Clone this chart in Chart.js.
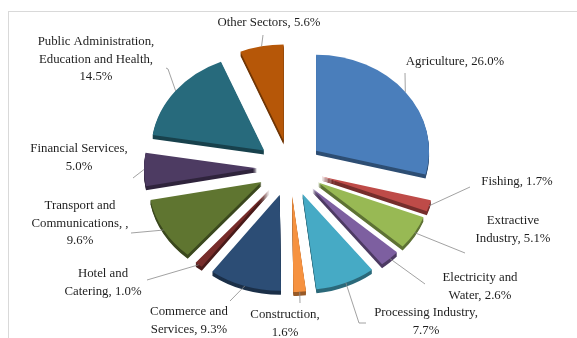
<!DOCTYPE html>
<html>
<head>
<meta charset="utf-8">
<script src="https://cdn.jsdelivr.net/npm/chart.js@4/dist/chart.umd.min.js"></script>
<style>
  html, body { margin: 0; padding: 0; background: #fff; }
  #wrap { width: 577px; height: 338px; position: relative; }
</style>
</head>
<body>
<div id="wrap"><canvas id="sectorPie"></canvas></div>
<script>
// ── Data ──
const categories = [
  'Agriculture', 'Fishing', 'Extractive Industry', 'Electricity and Water',
  'Processing Industry', 'Construction', 'Commerce and Services', 'Hotel and Catering',
  'Transport and Communications', 'Financial Services',
  'Public Administration, Education and Health', 'Other Sectors'
];
const shares = [26.0, 1.7, 5.1, 2.6, 7.7, 1.6, 9.3, 1.0, 9.6, 5.0, 14.5, 5.6];
const sliceColors = [
  '#4A7EBB', '#BE4B48', '#98B954', '#7D5FA0', '#46AAC5', '#F69240',
  '#2C4D75', '#772C2A', '#5F7530', '#4D3B62', '#276A7C', '#B65708'
];
// label text, {v} is replaced by the share
const labelLines = [
  ['Agriculture, {v}'],
  ['Fishing, {v}'],
  ['Extractive', 'Industry, {v}'],
  ['Electricity and', 'Water, {v}'],
  ['Processing Industry,', '{v}'],
  ['Construction,', '{v}'],
  ['Commerce and', 'Services, {v}'],
  ['Hotel and', 'Catering, {v}'],
  ['Transport and', 'Communications, ,', '{v}'],
  ['Financial Services,', '{v}'],
  ['Public Administration,', 'Education and Health,', '{v}'],
  ['Other Sectors, {v}']
];

// ── Layout (label boxes and leader line ends) ──
const labelLayout = [
  { x: 455, y: 62,  lead: [[405, 73]] },
  { x: 517, y: 182, lead: [[470, 187]] },
  { x: 513, y: 221, lead: [[465, 253]] },
  { x: 480, y: 278, lead: [[425, 284]] },
  { x: 426, y: 313, lead: [[359, 323], [366, 323]] },
  { x: 285, y: 315, lead: [[300, 303]] },
  { x: 189, y: 312, lead: [[230, 301]] },
  { x: 103, y: 274, lead: [[147, 280]] },
  { x: 80,  y: 206, lead: [[131, 233]] },
  { x: 79,  y: 149, lead: [[133, 178]] },
  { x: 96,  y: 42,  lead: [[168, 69], [166, 68]] },
  { x: 269, y: 23,  lead: [[263, 35]] }
];

const TILT = 0.85;     // vertical squash for the 3D look
const EXPLODE = 33;    // slice pull-out, px
const DEPTH = 4;       // wall thickness, px
const FONT = '12.8px "Liberation Serif", "Times New Roman", serif';
const LINE_H = 17.5;

// ── Plugins ──
const frame = {
  id: 'frame',
  beforeDraw(chart) {
    const ctx = chart.ctx;
    ctx.save();
    ctx.fillStyle = '#fff';
    ctx.fillRect(0, 0, chart.width, chart.height);
    ctx.strokeStyle = '#d9d9d9';
    ctx.lineWidth = 1;
    ctx.strokeRect(8.5, 11.5, chart.width, chart.height);
    ctx.restore();
  }
};

// exploded, tilted pie with a darker wall under each slice
const tiltedPie = {
  id: 'tiltedPie',
  beforeDatasetsDraw(chart) {
    const ctx = chart.ctx;
    const arcs = chart.getDatasetMeta(0).data;
    if (!arcs.length) return;
    const cx = arcs[0].x, cy = arcs[0].y;
    ctx.save();
    ctx.translate(cx, cy);
    ctx.scale(1, TILT);
    ctx.translate(-cx, -cy);
    const passes = [];
    for (let d = DEPTH; d >= 1; d--) passes.push([d / TILT, 'brightness(0.62)']);
    passes.push([0, 'none']);
    passes.forEach(([dy, filter]) => {
      arcs.forEach(arc => {
        const mid = (arc.startAngle + arc.endAngle) / 2;
        ctx.save();
        ctx.filter = filter;
        ctx.translate(Math.cos(mid) * EXPLODE, Math.sin(mid) * EXPLODE + dy);
        arc.draw(ctx);
        ctx.restore();
      });
    });
    ctx.restore();
    return false;
  }
};

const outsideLabels = {
  id: 'outsideLabels',
  afterDraw(chart) {
    const ctx = chart.ctx;
    const arcs = chart.getDatasetMeta(0).data;
    ctx.save();
    arcs.forEach((arc, i) => {
      const mid = (arc.startAngle + arc.endAngle) / 2;
      const r = arc.outerRadius + EXPLODE;
      const ax = arc.x + Math.cos(mid) * r;
      const ay = arc.y + Math.sin(mid) * r * TILT;
      const lay = labelLayout[i];

      ctx.strokeStyle = '#8a8a8a';
      ctx.lineWidth = 0.8;
      ctx.beginPath();
      ctx.moveTo(ax, ay);
      lay.lead.forEach(p => ctx.lineTo(p[0], p[1]));
      ctx.stroke();

      ctx.fillStyle = '#1e1e1e';
      ctx.font = FONT;
      ctx.textAlign = 'center';
      ctx.textBaseline = 'middle';
      const pct = shares[i].toFixed(1) + '%';
      labelLines[i].forEach((t, k) => {
        ctx.fillText(t.replace('{v}', pct), lay.x, lay.y + k * LINE_H);
      });
    });
    ctx.restore();
  }
};

// ── Chart ──
new Chart(document.getElementById('sectorPie'), {
  type: 'pie',
  data: {
    labels: categories,
    datasets: [{
      data: shares,
      backgroundColor: sliceColors,
      borderWidth: 0
    }]
  },
  options: {
    responsive: true,
    maintainAspectRatio: false,
    animation: false,
    radius: 113,
    layout: { padding: { left: 3, right: 0, top: 0, bottom: 2 } },
    plugins: {
      legend: { display: false },
      tooltip: { enabled: false }
    }
  },
  plugins: [frame, tiltedPie, outsideLabels]
});
</script>
</body>
</html>
